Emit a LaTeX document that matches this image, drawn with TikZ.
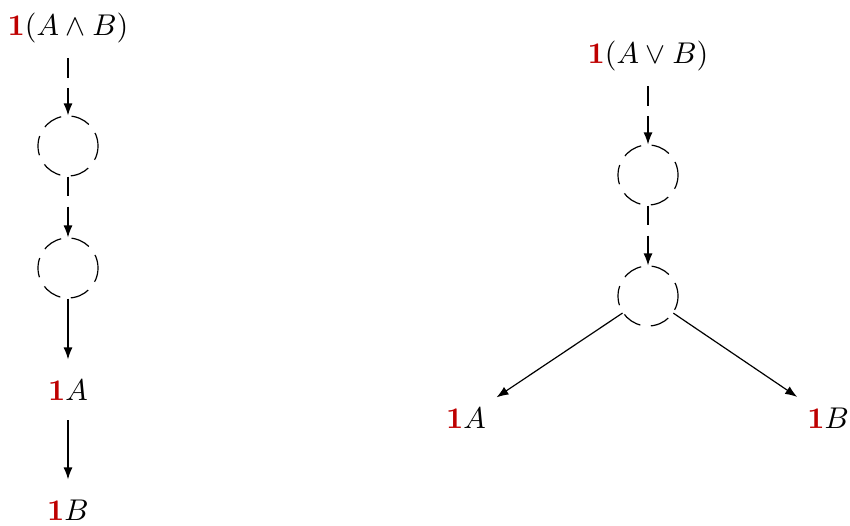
\documentclass[tikz,border=0pt]{standalone}
\usetikzlibrary{arrows.meta}
\definecolor{onered}{RGB}{190,0,0}
\begin{document}
\begin{tikzpicture}[x=0.3333pt,y=-0.3333pt,
  lbl/.style={inner sep=3.33pt, anchor=base},
  hole/.style={circle, draw, minimum size=20pt, inner sep=0pt, line width=0.4pt, dash pattern=on 6.5pt off 3.5pt, dash phase=2pt},
  arr/.style={-{Latex[length=4pt,width=3pt]}, line width=0.4pt},
  darr/.style={arr, dash pattern=on 6.5pt off 3.5pt}]
\useasboundingbox (0,0) rectangle (850,525);
% left tree
\node[lbl, inner ysep=5pt] (lt) at (68,35) {$\textcolor{onered}{\mathbf{1}}(A\wedge B)$};
\node[hole] (l1) at (68,146) {};
\node[hole] (l2) at (68,268) {};
\node[lbl, inner ysep=6.5pt] (lA) at (68,400) {$\textcolor{onered}{\mathbf{1}}A$};
\node[lbl, inner ysep=6.5pt] (lB) at (68,520) {$\textcolor{onered}{\mathbf{1}}B$};
\draw[darr] (lt) -- (l1);
\draw[darr] (l1) -- (l2);
\draw[arr] (l2) -- (lA);
\draw[arr] (lA) -- (lB);
% right tree
\node[lbl, inner ysep=5pt] (rt) at (648,63) {$\textcolor{onered}{\mathbf{1}}(A\vee B)$};
\node[hole] (r1) at (648,175) {};
\node[hole] (r2) at (648,296) {};
\node[lbl] (rA) at (466,428) {$\textcolor{onered}{\mathbf{1}}A$};
\node[lbl] (rB) at (828,428) {$\textcolor{onered}{\mathbf{1}}B$};
\draw[darr] (rt) -- (r1);
\draw[darr] (r1) -- (r2);
\draw[arr] (r2) -- (rA);
\draw[arr] (r2) -- (rB);
\end{tikzpicture}
\end{document}
